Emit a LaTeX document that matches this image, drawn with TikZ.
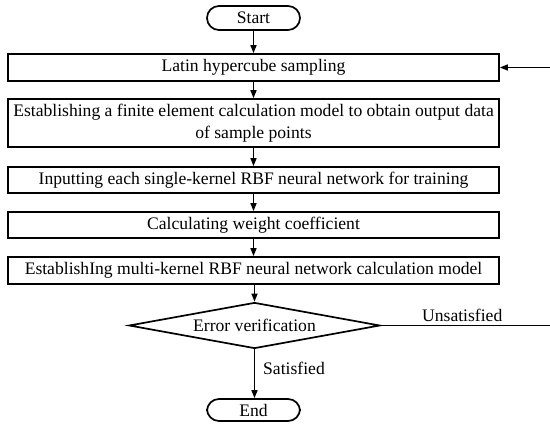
\documentclass[tikz,border=0pt]{standalone}
\usepackage{fontspec}
\setmainfont{Liberation Serif}
\usetikzlibrary{shapes.geometric,arrows.meta}
\begin{document}
\begin{tikzpicture}[x=1pt,y=-1pt,
  font=\fontsize{17.6}{19}\selectfont,
  every node/.style={inner sep=0pt},
  stepbox/.style={draw,line width=1.7pt,minimum width=491pt,align=center},
  terminal/.style={draw,line width=1.7pt,rounded corners=12pt,minimum width=93pt,minimum height=24pt},
  decision/.style={draw,line width=1.7pt,diamond,aspect=5.4,minimum width=251pt,minimum height=46pt},
  flow/.style={line width=1.4pt,-{Triangle[length=8pt,width=6pt]}},
  plain/.style={line width=1.4pt}]
\useasboundingbox (0,0) rectangle (550,425);
\node[terminal] (start) at (253.5,18) {Start};
\node[stepbox,minimum height=27pt] (s1) at (253.5,67.5) {Latin hypercube sampling};
\node[stepbox,minimum height=48pt] (s2) at (253.5,123) {Establishing a finite element calculation model to obtain output data\\[3pt] of sample points};
\node[stepbox,minimum height=26pt] (s3) at (253.5,180) {Inputting each single-kernel RBF neural network for training};
\node[stepbox,minimum height=26pt] (s4) at (253.5,225) {Calculating weight coefficient};
\node[stepbox,minimum height=27pt] (s5) at (253.5,270.5) {EstablishIng multi-kernel RBF neural network calculation model};
\node[decision] (dec) at (254.5,325.5) {Error verification};
\node[terminal,minimum height=22pt] (end) at (253.5,410) {End};
\coordinate (r1) at (554,325.5);
\coordinate (r2) at (554,67.5);

\draw[flow] (start) -- (s1);
\draw[flow] (s1) -- (s2);
\draw[flow] (s2) -- (s3);
\draw[flow] (s3) -- (s4);
\draw[flow] (s4) -- (s5);
\draw[flow] (s5.south -| dec.north) -- (dec.north);
\draw[flow] (dec.south) -- node[right=8pt,pos=0.4] {Satisfied} (end.north -| dec.south);
\draw[plain] (dec.east) -- node[above=3pt,pos=0.47] {Unsatisfied} (r1);
\draw[flow] (r1) -- (r2) -- (s1.east);
\end{tikzpicture}
\end{document}
